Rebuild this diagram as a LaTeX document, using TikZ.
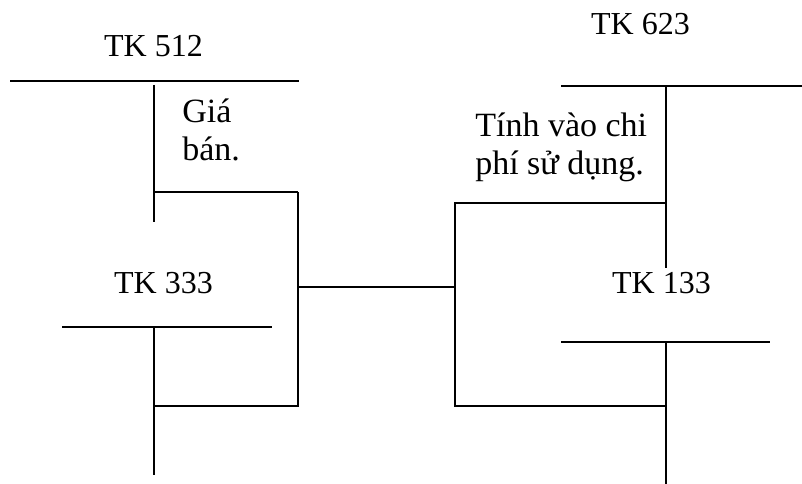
\documentclass[tikz,border=0pt]{standalone}
\usepackage{fontspec}
\setmainfont{Liberation Serif}
\begin{document}
\begin{tikzpicture}[x=0.75pt,y=-0.75pt,
  rule/.style={line width=1.4pt, black},
  thinrule/.style={line width=0.9pt, black},
  acct/.style={inner sep=0pt, font=\fontsize{24}{30}\selectfont, anchor=base},
  note/.style={inner sep=0pt, font=\fontsize{25.5}{29}\selectfont, align=left, anchor=base west}]
\useasboundingbox (0,0) rectangle (802,484);

% account titles
\node[acct] (t512) at (153.5,57) {TK 512};
\node[acct] (t333) at (163.5,293) {TK 333};
\node[acct] (t623) at (640.5,35) {TK 623};
\node[acct] (t133) at (661.5,293) {TK 133};

% explanatory notes (anchored on the baseline of the last line)
\node[note] (gia) at (182,161) {Giá\\bán.};
\node[note] (tinh) at (475,175) {Tính vào chi\\phí sử dụng.};

% T-account 512
\coordinate (a1) at (10,81);
\coordinate (a2) at (299,81);
\coordinate (a3) at (154,85);
\coordinate (a4) at (154,222);
\coordinate (a5) at (154,192);
\coordinate (a6) at (298,192);
\draw[rule] (a1) -- (a2);
\draw[rule] (a3) -- (a4);
\draw[rule] (a5) -- (a6);

% T-account 333
\coordinate (b1) at (62,327);
\coordinate (b2) at (272,327);
\coordinate (b1i) at (95,327);
\coordinate (b2i) at (236,327);
\coordinate (b3) at (154,327);
\coordinate (b4) at (154,475);
\coordinate (b5) at (154,406);
\coordinate (b6) at (298,406);
\draw[thinrule] (b1) -- (b2);
\draw[rule] (b1) -- (b1i);
\draw[rule] (b2i) -- (b2);
\draw[rule] (b3) -- (b4);
\draw[rule] (b5) -- (b6) -- (a6);

% link between the two groups
\coordinate (m1) at (298,287);
\coordinate (m2) at (455,287);
\draw[rule] (m1) -- (m2);

% T-account 623
\coordinate (c1) at (561,86);
\coordinate (c2) at (802,86);
\coordinate (c3) at (666,86);
\coordinate (c4) at (666,268);
\coordinate (c5) at (666,203);
\coordinate (c6) at (455,203);
\draw[rule] (c1) -- (c2);
\draw[rule] (c3) -- (c4);

% T-account 133
\coordinate (d1) at (561,342);
\coordinate (d2) at (770,342);
\coordinate (d3) at (666,342);
\coordinate (d4) at (666,484);
\coordinate (d5) at (666,406);
\coordinate (d6) at (455,406);
\draw[rule] (d1) -- (d2);
\draw[rule] (d3) -- (d4);
\draw[rule] (c5) -- (c6) -- (d6) -- (d5);
\end{tikzpicture}
\end{document}
